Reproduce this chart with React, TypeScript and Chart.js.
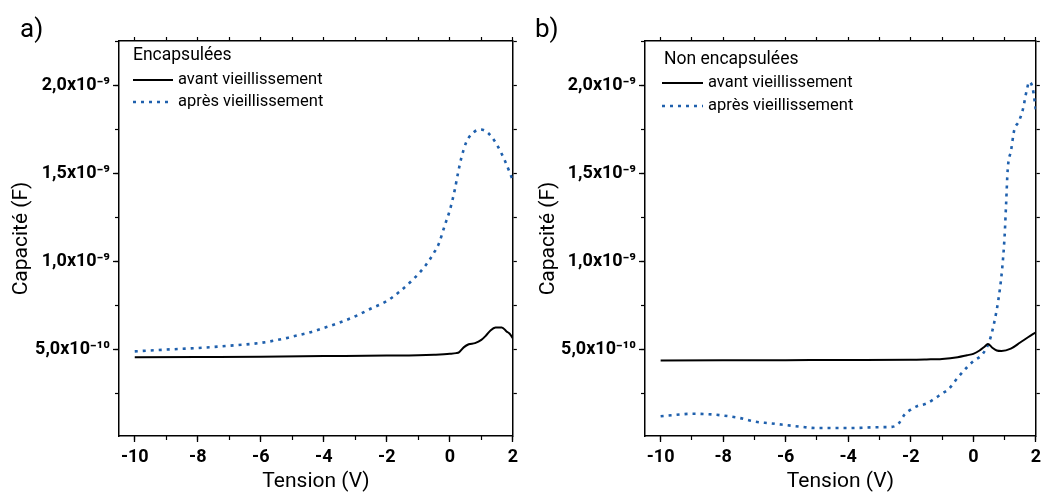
import React, { useEffect, useRef } from 'react';
import { Chart, registerables } from 'chart.js';

Chart.register(...registerables);

const FONT = "Roboto, 'Noto Sans', 'DejaVu Sans', sans-serif";
const BLUE = '#1f60ad';

// Axis ranges and tick labels
const X_MIN = -10.5;
const X_MAX = 2;
const Y_MIN = 1e-11;
const Y_MAX = 2.25e-9;
const Y_TICK_VALUES = [5e-10, 1e-9, 1.5e-9, 2e-9];
const Y_TICK_LABELS = ['5,0x10⁻¹⁰', '1,0x10⁻⁹', '1,5x10⁻⁹', '2,0x10⁻⁹'];

const SERIES_NAMES = ['avant vieillissement', 'après vieillissement'];
const PANEL_TITLES = ['Encapsulées', 'Non encapsulées'];
const PANEL_TAGS = ['a)', 'b)'];
const X_TITLE = 'Tension (V)';
const Y_TITLE = 'Capacité (F)';

// Panel a) — encapsulated
const voltA_avant = [-10, -8, -6, -4, -2, -1, -0.5, 0, 0.2, 0.3, 0.45, 0.6, 0.8, 1.0, 1.15, 1.3, 1.45, 1.65, 1.8, 1.9, 2.0];
const capA_avant = [4.56e-10, 4.58e-10, 4.60e-10, 4.63e-10, 4.66e-10, 4.68e-10, 4.71e-10, 4.76e-10, 4.80e-10, 4.86e-10, 5.14e-10, 5.30e-10, 5.37e-10, 5.55e-10, 5.80e-10, 6.10e-10, 6.25e-10, 6.26e-10, 6.03e-10, 5.90e-10, 5.65e-10];
const voltA_apres = [-10, -9, -8, -7, -6, -5.2, -5.0, -4.5, -4, -3.5, -3, -2.5, -2.0, -1.6, -1.2, -0.8, -0.5, -0.35, -0.15, 0, 0.15, 0.27, 0.37, 0.52, 0.74, 0.97, 1.21, 1.47, 1.74, 2.0];
const capA_apres = [4.90e-10, 5.00e-10, 5.09e-10, 5.22e-10, 5.38e-10, 5.65e-10, 5.74e-10, 5.95e-10, 6.23e-10, 6.53e-10, 6.89e-10, 7.33e-10, 7.75e-10, 8.28e-10, 8.92e-10, 9.70e-10, 1.05e-9, 1.10e-9, 1.21e-9, 1.29e-9, 1.40e-9, 1.51e-9, 1.59e-9, 1.675e-9, 1.73e-9, 1.748e-9, 1.729e-9, 1.669e-9, 1.574e-9, 1.46e-9];

// Panel b) — non encapsulated
const voltB_avant = [-10, -8, -6, -4, -2, -1.5, -1, -0.5, -0.2, 0, 0.2, 0.35, 0.47, 0.6, 0.75, 0.9, 1.2, 1.5, 1.75, 2.0];
const capB_avant = [4.38e-10, 4.39e-10, 4.40e-10, 4.41e-10, 4.42e-10, 4.44e-10, 4.47e-10, 4.57e-10, 4.68e-10, 4.76e-10, 4.95e-10, 5.15e-10, 5.32e-10, 5.12e-10, 4.95e-10, 4.92e-10, 5.05e-10, 5.40e-10, 5.70e-10, 5.98e-10];
const voltB_apres = [-10, -9.5, -9, -8.5, -8, -7.5, -7, -6.5, -6, -5.5, -5, -4, -3, -2.6, -2.4, -2.2, -2.0, -1.8, -1.5, -1.2, -1.0, -0.8, -0.5, -0.2, 0, 0.3, 0.5, 0.6, 0.7, 0.8, 0.92, 1.0, 1.05, 1.1, 1.21, 1.31, 1.45, 1.58, 1.71, 1.79, 1.9, 2.0];
const capB_apres = [1.22e-10, 1.30e-10, 1.36e-10, 1.34e-10, 1.26e-10, 1.13e-10, 0.92e-10, 0.82e-10, 0.72e-10, 0.62e-10, 0.55e-10, 0.55e-10, 0.60e-10, 0.62e-10, 0.78e-10, 1.31e-10, 1.60e-10, 1.79e-10, 1.94e-10, 2.26e-10, 2.51e-10, 2.74e-10, 3.40e-10, 4.00e-10, 4.34e-10, 4.75e-10, 5.40e-10, 6.00e-10, 6.80e-10, 7.80e-10, 9.53e-10, 1.14e-9, 1.33e-9, 1.52e-9, 1.632e-9, 1.745e-9, 1.792e-9, 1.858e-9, 1.972e-9, 2.019e-9, 1.981e-9, 1.858e-9];

type PanelCfg = {
  tag: string;
  title: string;
  avant: [number[], number[]];
  apres: [number[], number[]];
  leftW: number;
  rightW: number;
  yTitlePad: number;
  tagX: number;
  legend: { titleDx: number; titleDy: number; lineDx: number; itemDy: number; itemGap: number; sampleW: number };
};

const PANELS: PanelCfg[] = [
  {
    tag: PANEL_TAGS[0], title: PANEL_TITLES[0],
    avant: [voltA_avant, capA_avant], apres: [voltA_apres, capA_apres],
    leftW: 119, rightW: 8, yTitlePad: 9, tagX: 20,
    legend: { titleDx: 14, titleDy: 15, lineDx: 14, itemDy: 39, itemGap: 22, sampleW: 40 },
  },
  {
    tag: PANEL_TAGS[1], title: PANEL_TITLES[1],
    avant: [voltB_avant, capB_avant], apres: [voltB_apres, capB_apres],
    leftW: 122, rightW: 6, yTitlePad: 13, tagX: 12,
    legend: { titleDx: 19, titleDy: 19, lineDx: 17, itemDy: 42, itemGap: 23, sampleW: 41 },
  },
];

const decorPlugin = {
  id: 'panelDecor',
  afterDatasetsDraw(chart: any, _args: any, opts: any) {
    const { ctx, chartArea } = chart;
    const L = opts.legend;
    ctx.save();
    ctx.fillStyle = '#000';
    ctx.textAlign = 'left';
    ctx.textBaseline = 'middle';
    ctx.font = `17.5px ${FONT}`;
    ctx.fillText(opts.title, chartArea.left + L.titleDx, chartArea.top + L.titleDy);
    const x0 = chartArea.left + L.lineDx;
    chart.data.datasets.forEach((ds: any, i: number) => {
      const y = chartArea.top + L.itemDy + i * L.itemGap;
      ctx.beginPath();
      ctx.strokeStyle = ds.borderColor;
      ctx.lineWidth = ds.borderWidth;
      ctx.setLineDash(ds.borderDash || []);
      ctx.moveTo(x0, y);
      ctx.lineTo(x0 + L.sampleW, y);
      ctx.stroke();
      ctx.setLineDash([]);
      ctx.font = `16.5px ${FONT}`;
      ctx.fillText(ds.label, x0 + L.sampleW + 5, y);
    });
    ctx.font = `26px ${FONT}`;
    ctx.fillText(opts.tag, opts.tagX, 30);
    ctx.restore();
  },
};

function toPoints(xs: number[], ys: number[]) {
  return xs.map((x, i) => ({ x, y: ys[i] }));
}

function yLabel(v: number) {
  const i = Y_TICK_VALUES.findIndex((t) => Math.abs(t - v) < 1e-12);
  return i >= 0 ? Y_TICK_LABELS[i] : '';
}

function buildConfig(p: PanelCfg): any {
  const border = { display: true, color: '#000', width: 1.5 };
  const noBorder = { display: false };
  const tickFont = { family: FONT, size: 18, weight: 'bold' };
  return {
    type: 'line',
    data: {
      datasets: [
        {
          label: SERIES_NAMES[0],
          data: toPoints(p.avant[0], p.avant[1]),
          borderColor: '#000', borderWidth: 2, pointRadius: 0,
          cubicInterpolationMode: 'monotone', fill: false,
          xAxisID: 'x', yAxisID: 'y',
        },
        {
          label: SERIES_NAMES[1],
          data: toPoints(p.apres[0], p.apres[1]),
          borderColor: BLUE, borderWidth: 2.6, borderDash: [3, 5], pointRadius: 0,
          cubicInterpolationMode: 'monotone', fill: false,
          xAxisID: 'x', yAxisID: 'y',
        },
      ],
    },
    options: {
      responsive: false,
      animation: false,
      events: [],
      layout: { padding: 0 },
      plugins: {
        legend: { display: false },
        tooltip: { enabled: false },
        panelDecor: { title: p.title, tag: p.tag, tagX: p.tagX, legend: p.legend },
      },
      scales: {
        x: {
          type: 'linear', position: 'bottom', weight: 1, min: X_MIN, max: X_MAX,
          afterFit: (s: any) => { s.height = 56; },
          border,
          grid: { drawOnChartArea: false, drawTicks: true, tickLength: 6, tickColor: '#000', tickWidth: 1.3 },
          ticks: {
            stepSize: 2, includeBounds: false, autoSkip: false, maxRotation: 0, minRotation: 0, padding: 5,
            color: '#000', font: tickFont,
            callback: (v: number) => String(Math.round(v)),
          },
          title: { display: true, text: X_TITLE, color: '#000', font: { family: FONT, size: 21, lineHeight: 1.0 }, padding: { top: 0, bottom: 0 } },
        },
        xm: {
          type: 'linear', position: 'bottom', weight: 0, min: X_MIN, max: X_MAX,
          afterFit: (s: any) => { s.height = 0; },
          border: noBorder,
          grid: { drawOnChartArea: false, drawTicks: true, tickLength: 4, tickColor: '#000', tickWidth: 1.2 },
          ticks: { display: false, stepSize: 1, includeBounds: false, autoSkip: false },
        },
        x2: {
          type: 'linear', position: 'top', min: X_MIN, max: X_MAX,
          afterFit: (s: any) => { s.height = 41; },
          border,
          grid: { drawOnChartArea: false, drawTicks: true, tickLength: 4, tickColor: '#000', tickWidth: 1.2 },
          ticks: { display: false, stepSize: 1, includeBounds: false, autoSkip: false },
        },
        y: {
          type: 'linear', position: 'left', weight: 1, min: Y_MIN, max: Y_MAX,
          afterFit: (s: any) => { s.width = p.leftW; },
          border,
          grid: { drawOnChartArea: false, drawTicks: true, tickLength: 6, tickColor: '#000', tickWidth: 1.3 },
          ticks: {
            stepSize: 5e-10, includeBounds: false, autoSkip: false, padding: 3,
            color: '#000', font: tickFont, callback: yLabel,
          },
          title: { display: true, text: Y_TITLE, color: '#000', font: { family: FONT, size: 21 }, padding: { top: p.yTitlePad, bottom: 0 } },
        },
        ym: {
          type: 'linear', position: 'left', weight: 0, min: Y_MIN, max: Y_MAX,
          afterFit: (s: any) => { s.width = 0; },
          border: noBorder,
          grid: { drawOnChartArea: false, drawTicks: true, tickLength: 4, tickColor: '#000', tickWidth: 1.2 },
          ticks: { display: false, stepSize: 2.5e-10, includeBounds: false, autoSkip: false },
        },
        y2: {
          type: 'linear', position: 'right', min: Y_MIN, max: Y_MAX,
          afterFit: (s: any) => { s.width = p.rightW; },
          border,
          grid: { drawOnChartArea: false, drawTicks: true, tickLength: 4, tickColor: '#000', tickWidth: 1.2 },
          ticks: { display: false, stepSize: 2.5e-10, includeBounds: false, autoSkip: false },
        },
      },
    },
    plugins: [decorPlugin],
  };
}

function Panel({ cfg, left }: { cfg: PanelCfg; left: number }) {
  const ref = useRef<HTMLCanvasElement>(null);
  useEffect(() => {
    const chart = new Chart(ref.current as HTMLCanvasElement, buildConfig(cfg));
    return () => chart.destroy();
  }, [cfg]);
  return (
    <div style={{ position: 'absolute', left, top: 0, width: 523, height: 492 }}>
      <canvas ref={ref} width={523} height={492} style={{ display: 'block' }} />
    </div>
  );
}

export default function App() {
  return (
    <div style={{ position: 'absolute', left: 0, top: 0, width: 1046, height: 492, background: '#fff', overflow: 'hidden' }}>
      <Panel cfg={PANELS[0]} left={0} />
      <Panel cfg={PANELS[1]} left={523} />
    </div>
  );
}
